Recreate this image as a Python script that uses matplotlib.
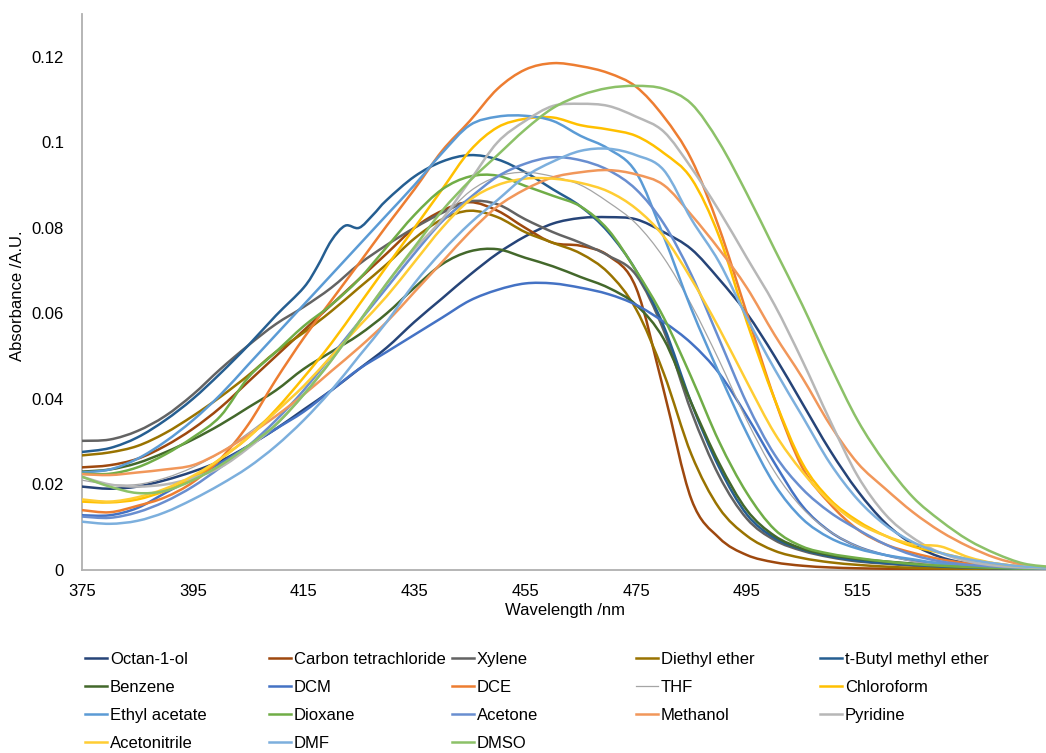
import matplotlib
matplotlib.use("Agg")
import matplotlib.pyplot as plt
import numpy as np
from matplotlib.lines import Line2D
from matplotlib.path import Path
from matplotlib.patches import PathPatch

plt.rcParams['font.family'] = ['Liberation Sans', 'DejaVu Sans']

# ---------------- data ----------------
wavelength = list(range(375, 551, 5))
# t-Butyl methyl ether read more finely around its small glitch near 420 nm
tbme_wavelength = ([375, 380, 385, 390, 395, 400, 405, 410, 415, 417.5, 420, 422.5,
                    425, 427.5] + list(range(430, 551, 5)))

octan_1_ol = [0.0195,0.019,0.0195,0.021,0.023,0.0255,0.029,0.033,0.0375,0.042,0.047,0.052,0.058,0.0635,0.069,0.074,0.078,0.081,0.0823,0.0825,0.082,0.079,0.075,0.068,0.060,0.050,0.039,0.028,0.0185,0.011,0.006,0.003,0.0015,0.0008,0.0005,0.0003]
carbon_tetrachloride = [0.024,0.0245,0.026,0.029,0.033,0.038,0.044,0.050,0.056,0.062,0.068,0.074,0.080,0.084,0.086,0.084,0.080,0.0765,0.0758,0.0735,0.066,0.042,0.0165,0.0075,0.0035,0.0018,0.001,0.0006,0.0004,0.0003,0.0002,0.0002,0.0001,0.0001,0.0001,0.0001]
xylene = [0.0302,0.0305,0.0325,0.036,0.041,0.047,0.0525,0.0575,0.0615,0.066,0.0715,0.076,0.080,0.0835,0.0862,0.0855,0.082,0.079,0.0765,0.0735,0.069,0.056,0.037,0.022,0.012,0.007,0.0045,0.003,0.002,0.0015,0.001,0.0008,0.0006,0.0005,0.0004,0.0003]
diethyl_ether = [0.0268,0.0275,0.029,0.032,0.036,0.0405,0.0455,0.051,0.0555,0.0605,0.066,0.0715,0.0775,0.082,0.084,0.0825,0.079,0.0765,0.074,0.0695,0.061,0.046,0.027,0.0145,0.008,0.0045,0.0028,0.0018,0.0012,0.0008,0.0005,0.0004,0.0003,0.0002,0.0002,0.0001]
t_butyl_methyl_ether = [0.0276,0.0285,0.031,0.035,0.040,0.046,0.0525,0.0595,0.066,0.071,0.077,0.0805,0.0800,0.0830,0.0865,0.092,0.0955,0.097,0.096,0.093,0.089,0.085,0.079,0.070,0.057,0.039,0.024,0.013,0.0075,0.0048,0.0032,0.0022,0.0016,0.0012,0.0008,0.0006,0.0004,0.0003,0.0002]
benzene = [0.023,0.0235,0.025,0.0275,0.0305,0.034,0.038,0.042,0.047,0.051,0.055,0.060,0.066,0.0715,0.0745,0.075,0.073,0.071,0.0685,0.066,0.062,0.054,0.039,0.025,0.014,0.008,0.005,0.0035,0.0026,0.002,0.0015,0.001,0.0008,0.0006,0.0004,0.0003]
dcm = [0.0128,0.0128,0.0145,0.018,0.0215,0.025,0.029,0.033,0.037,0.042,0.047,0.051,0.055,0.059,0.063,0.0655,0.067,0.067,0.066,0.0645,0.062,0.058,0.053,0.046,0.036,0.025,0.015,0.009,0.0055,0.0035,0.0022,0.0015,0.001,0.0006,0.0004,0.0003]
dce = [0.014,0.0135,0.015,0.017,0.0205,0.026,0.034,0.0445,0.0542,0.063,0.0717,0.0805,0.089,0.098,0.105,0.1125,0.117,0.1185,0.1178,0.1162,0.113,0.106,0.096,0.080,0.060,0.040,0.024,0.0155,0.0095,0.006,0.004,0.0025,0.0015,0.001,0.0006,0.0004]
thf = [0.021,0.020,0.020,0.0215,0.024,0.0275,0.032,0.037,0.043,0.050,0.058,0.066,0.074,0.082,0.0885,0.092,0.093,0.092,0.090,0.086,0.081,0.073,0.062,0.049,0.035,0.023,0.0145,0.009,0.0055,0.0035,0.002,0.0012,0.0008,0.0005,0.0003,0.0002]
chloroform = [0.016,0.0158,0.0165,0.0185,0.0215,0.026,0.031,0.0375,0.045,0.053,0.062,0.071,0.080,0.089,0.098,0.1035,0.1055,0.1058,0.104,0.103,0.1015,0.0975,0.0915,0.078,0.058,0.040,0.025,0.0165,0.0115,0.008,0.0055,0.004,0.0025,0.0015,0.0008,0.0005]
ethyl_acetate = [0.0228,0.0235,0.026,0.030,0.035,0.041,0.048,0.055,0.062,0.069,0.076,0.083,0.090,0.0975,0.104,0.106,0.1062,0.105,0.1015,0.0985,0.093,0.078,0.061,0.046,0.032,0.020,0.012,0.0075,0.005,0.0035,0.0025,0.0015,0.001,0.0007,0.0005,0.0003]
dioxane = [0.0225,0.0225,0.024,0.027,0.031,0.036,0.045,0.051,0.057,0.062,0.068,0.0755,0.083,0.089,0.092,0.0922,0.0898,0.0875,0.085,0.0795,0.070,0.059,0.045,0.030,0.018,0.0095,0.0055,0.0038,0.0028,0.002,0.0014,0.001,0.0007,0.0005,0.0003,0.0002]
acetone = [0.0125,0.0122,0.0135,0.016,0.0195,0.024,0.029,0.035,0.042,0.050,0.058,0.066,0.074,0.0815,0.087,0.092,0.095,0.0965,0.0958,0.0935,0.089,0.081,0.069,0.054,0.039,0.027,0.019,0.0135,0.0095,0.006,0.0035,0.002,0.0012,0.0008,0.0005,0.0003]
methanol = [0.0224,0.0222,0.0228,0.0235,0.0245,0.0275,0.0315,0.036,0.041,0.0465,0.052,0.058,0.065,0.072,0.079,0.085,0.089,0.0918,0.093,0.0935,0.0925,0.090,0.083,0.075,0.066,0.055,0.045,0.034,0.025,0.019,0.0135,0.009,0.0055,0.0028,0.0012,0.0006]
pyridine = [0.0218,0.020,0.0195,0.020,0.0215,0.024,0.0285,0.034,0.041,0.049,0.058,0.067,0.075,0.082,0.091,0.100,0.105,0.1085,0.109,0.1085,0.106,0.1025,0.094,0.084,0.073,0.062,0.049,0.035,0.022,0.013,0.0075,0.004,0.002,0.001,0.0006,0.0004]
acetonitrile = [0.0165,0.016,0.017,0.019,0.022,0.026,0.031,0.037,0.043,0.050,0.057,0.064,0.072,0.080,0.0865,0.090,0.0915,0.0915,0.0905,0.0885,0.0845,0.078,0.068,0.0565,0.044,0.032,0.023,0.016,0.011,0.008,0.006,0.0055,0.003,0.0015,0.0008,0.0005]
dmf = [0.0113,0.0108,0.0115,0.0135,0.0165,0.020,0.024,0.029,0.035,0.042,0.050,0.058,0.067,0.0745,0.081,0.0865,0.092,0.0955,0.098,0.0985,0.097,0.0935,0.082,0.072,0.059,0.047,0.036,0.025,0.0165,0.0105,0.0065,0.004,0.0025,0.0015,0.0008,0.0005]
dmso = [0.0218,0.0195,0.018,0.0185,0.021,0.0245,0.029,0.034,0.041,0.049,0.058,0.067,0.0755,0.084,0.091,0.097,0.103,0.108,0.111,0.1127,0.1132,0.1125,0.109,0.100,0.088,0.075,0.062,0.048,0.035,0.025,0.017,0.0115,0.007,0.0038,0.0015,0.0007]

series_names = ["Octan-1-ol", "Carbon tetrachloride", "Xylene", "Diethyl ether",
                "t-Butyl methyl ether", "Benzene", "DCM", "DCE", "THF", "Chloroform",
                "Ethyl acetate", "Dioxane", "Acetone", "Methanol", "Pyridine",
                "Acetonitrile", "DMF", "DMSO"]
series_values = [octan_1_ol, carbon_tetrachloride, xylene, diethyl_ether,
                 t_butyl_methyl_ether, benzene, dcm, dce, thf, chloroform,
                 ethyl_acetate, dioxane, acetone, methanol, pyridine,
                 acetonitrile, dmf, dmso]
series_x = [wavelength] * 18
series_x[4] = tbme_wavelength
series_colors = ["#264478", "#9E480E", "#636363", "#997300", "#255E91", "#43682B",
                 "#4472C4", "#ED7D31", "#A5A5A5", "#FFC000", "#5B9BD5", "#70AD47",
                 "#698ED0", "#F1975A", "#B7B7B7", "#FFCD33", "#7CAFDD", "#8CC168"]
series_widths = [1.8] * 18
series_widths[8] = 0.9   # THF thin line

y_ticks = [0, 0.02, 0.04, 0.06, 0.08, 0.1, 0.12]
y_tick_labels = ["0", "0.02", "0.04", "0.06", "0.08", "0.1", "0.12"]
x_ticks = list(range(375, 536, 20))


def smooth_path(xs, ys):
    """Excel-like smoothed line: cubic Bezier through every data point."""
    p = np.column_stack([np.asarray(xs, float), np.asarray(ys, float)])
    n = len(p)
    verts = [p[0]]
    codes = [Path.MOVETO]
    for i in range(n - 1):
        p0 = p[i - 1] if i > 0 else p[i]
        p1 = p[i]
        p2 = p[i + 1]
        p3 = p[i + 2] if i + 2 < n else p[i + 1]
        c1 = p1 + (p2 - p0) / 6.0
        c2 = p2 - (p3 - p1) / 6.0
        verts += [c1, c2, p2]
        codes += [Path.CURVE4] * 3
    return Path(verts, codes)


# ---------------- figure ----------------
W, H = 1046, 753
fig = plt.figure(figsize=(W / 100, H / 100), dpi=100)
ax = fig.add_axes([82 / W, 1 - 570 / H, (1046 - 82) / W, (570 - 14) / H])

for name, xs, vals, col, lw in zip(series_names, series_x, series_values,
                                   series_colors, series_widths):
    patch = PathPatch(smooth_path(xs, vals), facecolor='none',
                      edgecolor=col, lw=lw, joinstyle='round', capstyle='round',
                      label=name)
    ax.add_patch(patch)

ax.set_xlim(375, 549)
ax.set_ylim(0, 0.13)
ax.set_xticks(x_ticks)
ax.set_xticklabels([str(t) for t in x_ticks])
ax.set_yticks(y_ticks)
ax.set_yticklabels(y_tick_labels)
ax.tick_params(axis='both', length=0, labelsize=12, colors='#000000')
ax.tick_params(axis='y', pad=13)
ax.tick_params(axis='x', pad=10)
for s in ['top', 'right']:
    ax.spines[s].set_visible(False)
for s in ['left', 'bottom']:
    ax.spines[s].set_color('#B0B0B0')
    ax.spines[s].set_linewidth(1.3)
    ax.spines[s].set_zorder(0.5)

fig.text(18 / W, 1 - 296 / H, "Absorbance /A.U.", rotation=90, ha='center',
         va='center', fontsize=12)
fig.text(565 / W, 1 - 611 / H, "Wavelength /nm", ha='center', va='center',
         fontsize=12)

# ---------------- legend (5 columns, row-major) ----------------
col_x = [85, 269, 452, 636, 820]
row_y = [658, 686, 714, 742]
for i, (name, col, lw) in enumerate(zip(series_names, series_colors, series_widths)):
    r, c = divmod(i, 5)
    x0 = col_x[c]
    y = 1 - row_y[r] / H
    fig.add_artist(Line2D([x0 / W, (x0 + 22) / W], [y, y], color=col, lw=lw,
                          transform=fig.transFigure))
    fig.text((x0 + 25) / W, y, name, ha='left', va='center_baseline', fontsize=12)

fig.savefig("out.png", dpi=100)
